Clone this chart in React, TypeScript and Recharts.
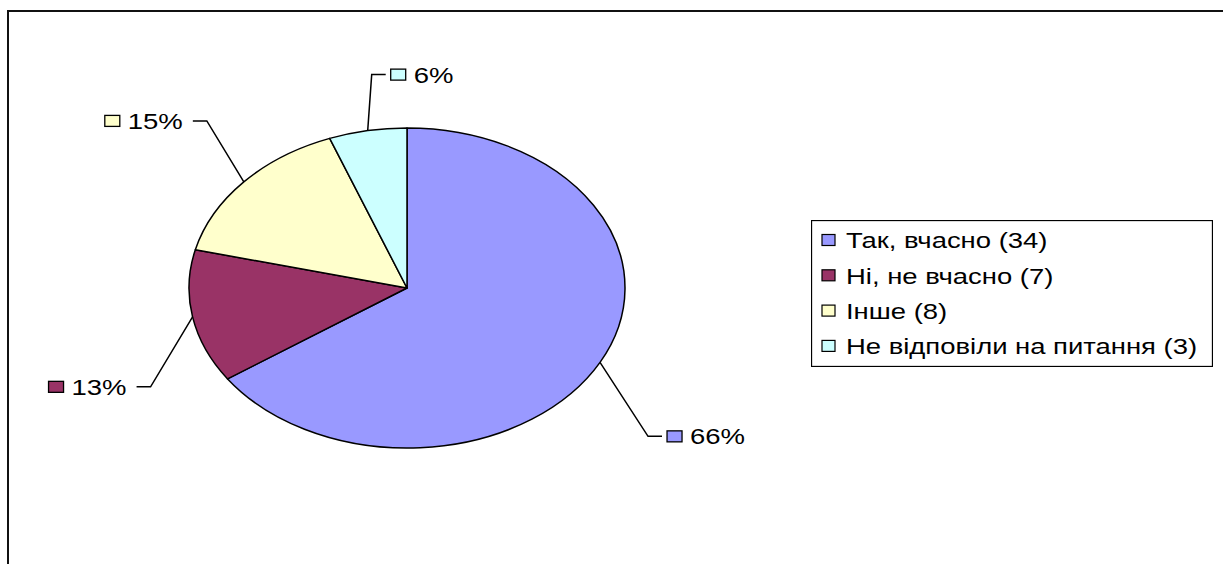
import React from 'react';
import { PieChart, Pie, Cell, Legend } from 'recharts';

const categories = ['Так, вчасно (34)', 'Ні, не вчасно (7)', 'Інше (8)', 'Не відповіли на питання (3)'];
const counts = [34, 7, 8, 3];
const percentLabels = ['66%', '13%', '15%', '6%'];
const colors = ['#9999FF', '#993366', '#FFFFCC', '#CCFFFF'];

const data = categories.map((name, i) => ({ name, value: counts[i] }));

const RAD = Math.PI / 180;
const ASPECT = 218 / 160; // the pie is drawn as a flattened ellipse
const FONT = '"Liberation Sans", Arial, sans-serif';
const FS = 22;
const SX = 1.25; // text in the original is stretched sideways

// where each leader line bends, relative to the point it leaves the pie
const LEADER = [
  { dx: 48, dy: 74, side: 1 },
  { dx: -42, dy: 70, side: -1 },
  { dx: -37, dy: -61, side: -1 },
  { dx: 4, dy: -56, side: 1 },
];

// rough Arial widths for the percent labels
const textWidth = (s: string) => {
  let w = 0;
  for (const ch of s) w += ch === '%' ? 0.889 : 0.556;
  return w * FS * SX;
};

const EllipseSector = (props: any) => {
  const { cx, cy, outerRadius, startAngle, endAngle, fill } = props;
  const ry = outerRadius;
  const rx = outerRadius * ASPECT;
  const pt = (a: number) => [cx + rx * Math.cos(-a * RAD), cy + ry * Math.sin(-a * RAD)];
  const [x1, y1] = pt(startAngle);
  const [x2, y2] = pt(endAngle);
  const large = Math.abs(endAngle - startAngle) > 180 ? 1 : 0;
  const sweep = startAngle > endAngle ? 1 : 0;
  return (
    <path
      d={`M${cx},${cy}L${x1},${y1}A${rx},${ry} 0 ${large} ${sweep} ${x2},${y2}Z`}
      fill={fill}
      stroke="#000"
      strokeWidth={1.5}
      strokeLinejoin="round"
    />
  );
};

const renderLabel = (props: any) => {
  const { cx, cy, midAngle, outerRadius, index } = props;
  const rx = outerRadius * ASPECT;
  const x0 = cx + rx * Math.cos(-midAngle * RAD);
  const y0 = cy + outerRadius * Math.sin(-midAngle * RAD);
  const { dx, dy, side } = LEADER[index];
  const ex = x0 + dx;
  const ey = y0 + dy;
  const hx = ex + side * 14;
  const text = percentLabels[index];
  const tw = textWidth(text);
  const textX = side > 0 ? hx + 28 : hx - 10 - tw;
  const boxX = textX - 23;
  return (
    <g key={`lbl-${index}`}>
      <polyline points={`${x0},${y0} ${ex},${ey} ${hx},${ey}`} fill="none" stroke="#000" strokeWidth={1.5} />
      <rect x={boxX} y={ey - 5.5} width={15} height={11} fill={colors[index]} stroke="#000" strokeWidth={1.3} />
      <text transform={`translate(${textX},${ey + 8}) scale(${SX},1)`} fontSize={FS} fontFamily={FONT} fill="#000">
        {text}
      </text>
    </g>
  );
};

// legend keeps the data order (Recharts would sort it)
const LegendBox = () => (
  <svg width={402} height={147} style={{ display: 'block' }}>
    <rect x={0.5} y={0.5} width={401} height={146} fill="#fff" stroke="#000" strokeWidth={1.3} />
    {categories.map((name, i) => {
      const y = 20 + i * 35.3;
      return (
        <g key={name}>
          <rect x={11} y={y - 5.5} width={13} height={11} fill={colors[i]} stroke="#000" strokeWidth={1.2} />
          <text transform={`translate(35,${y + 8.2}) scale(1.22,1)`} fontSize={22.5} fontFamily={FONT} fill="#000">
            {name}
          </text>
        </g>
      );
    })}
  </svg>
);

const App = () => {
  return (
    <div style={{ position: 'absolute', left: 0, top: 0, width: 1223, height: 564, overflow: 'hidden', background: '#fff' }}>
      <div
        style={{
          position: 'absolute',
          left: 7,
          top: 10,
          width: 1400,
          height: 700,
          borderLeft: '2px solid #111',
          borderTop: '2px solid #111',
        }}
      />
      <div style={{ position: 'absolute', left: 0, top: 0 }}>
        <PieChart width={1223} height={564} margin={{ top: 0, right: 0, bottom: 0, left: 0 }}>
          <Pie
            data={data}
            dataKey="value"
            nameKey="name"
            cx={407}
            cy={288}
            outerRadius={160}
            startAngle={90}
            endAngle={-270}
            stroke="#000"
            isAnimationActive={false}
            shape={EllipseSector}
            activeShape={EllipseSector}
            inactiveShape={EllipseSector}
            label={renderLabel}
            labelLine={false}
          >
            {data.map((d, i) => (
              <Cell key={d.name} fill={colors[i]} />
            ))}
          </Pie>
          <Legend
            layout="vertical"
            align="right"
            verticalAlign="top"
            content={LegendBox}
            wrapperStyle={{ left: 811, top: 220, width: 402, height: 147 }}
          />
        </PieChart>
      </div>
    </div>
  );
};

export default App;
